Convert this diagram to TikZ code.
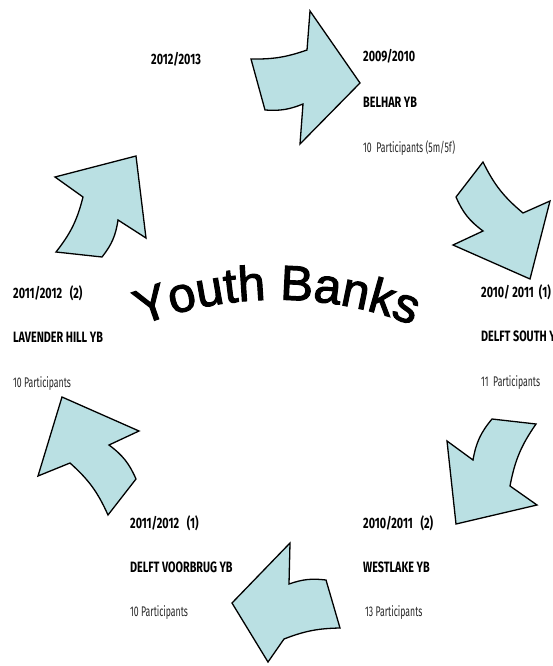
\documentclass[tikz,border=0pt]{standalone}
\usepackage{fontspec}
\usetikzlibrary{decorations.text}
\newfontfamily\labelfont[FakeStretch=0.72]{Fira Sans}
\newfontfamily\partfont[FakeStretch=0.62]{Fira Sans}
\newfontfamily\titlefont[FakeBold=2.2]{Liberation Sans}
\definecolor{arrowblue}{RGB}{186,224,227}
\tikzset{
  bigarrow/.style={draw=black, line width=1.3pt, fill=arrowblue, line join=miter},
  yeartext/.style={anchor=base west, inner sep=0pt, font=\labelfont\bfseries\fontsize{15}{17}\selectfont},
  parttext/.style={anchor=base west, inner sep=0pt, text=black!85, font=\partfont\fontsize{14}{16}\selectfont}
}
\begin{document}
\begin{tikzpicture}[x=1pt,y=-1pt]
  \useasboundingbox (0,0) rectangle (553,666);
  % the six arrows, clockwise from the top
  \draw[bigarrow] (251,59) to[bend right=10] (307,50) -- (310,11) -- (360,83) -- (300,144) -- (303,104) to[bend left=13] (265,110) -- cycle;
  \draw[bigarrow] (483,162) to[bend right=12] (523,213) -- (550,201) -- (530,279) -- (453,245) -- (483,231) to[bend left=15] (456,197) -- cycle;
  \draw[bigarrow] (536,424) to[bend right=12] (510,486) -- (537,505) -- (456,524) -- (447,441) -- (473,460) to[bend left=15] (492,419) -- cycle;
  \draw[bigarrow] (340,628) to[bend right=10] (284,639) -- (268,662) -- (232,603) -- (290,543) -- (289,584) to[bend left=13] (326,580) -- cycle;
  \draw[bigarrow] (108,515) to[bend right=12] (70,463) -- (38,476) -- (62,397) -- (139,431) -- (109,445) to[bend left=15] (136,479) -- cycle;
  \draw[bigarrow] (56,252) to[bend right=12] (83,197) -- (55,177) -- (136,156) -- (146,238) -- (118,220) to[bend left=15] (102,257) -- cycle;
  % title on an arch
  \path[decorate, decoration={text along path, text align=center,
    text={|\titlefont\fontsize{49}{58}\selectfont|Youth Banks}}]
    (140,326) .. controls (225,291) and (330,291) .. (414,326);
  % labels
  \node[yeartext] (y1213) at (151,65) {2012/2013};
  \node[yeartext] (y0910) at (363,62) {2009/2010};
  \node[yeartext] (belhar) at (363,107) {BELHAR YB};
  \node[parttext] (pbelhar) at (363,152) {10\ \ Participants (5m/5f)};
  \node[yeartext] (y1112b) at (13,298) {2011/2012\ \ \ (2)};
  \node[yeartext] (lavender) at (13,342) {LAVENDER HILL YB};
  \node[parttext] (plavender) at (13,387) {10 Participants};
  \node[yeartext] (y1011a) at (481,297) {2010/ 2011\ \ (1)};
  \node[yeartext] (delfts) at (481,341) {DELFT SOUTH YB};
  \node[parttext] (pdelfts) at (481,386) {11\ \ Participants};
  \node[yeartext] (y1112a) at (130,528) {2011/2012\ \ \ (1)};
  \node[yeartext] (voorbrug) at (130,572) {DELFT VOORBRUG YB};
  \node[parttext] (pvoorbrug) at (130,616) {10 Participants};
  \node[yeartext] (y1011b) at (363,528) {2010/2011\ \ \ (2)};
  \node[yeartext] (westlake) at (363,572) {WESTLAKE YB};
  \node[parttext] (pwestlake) at (365,616) {13 Participants};
\end{tikzpicture}
\end{document}
